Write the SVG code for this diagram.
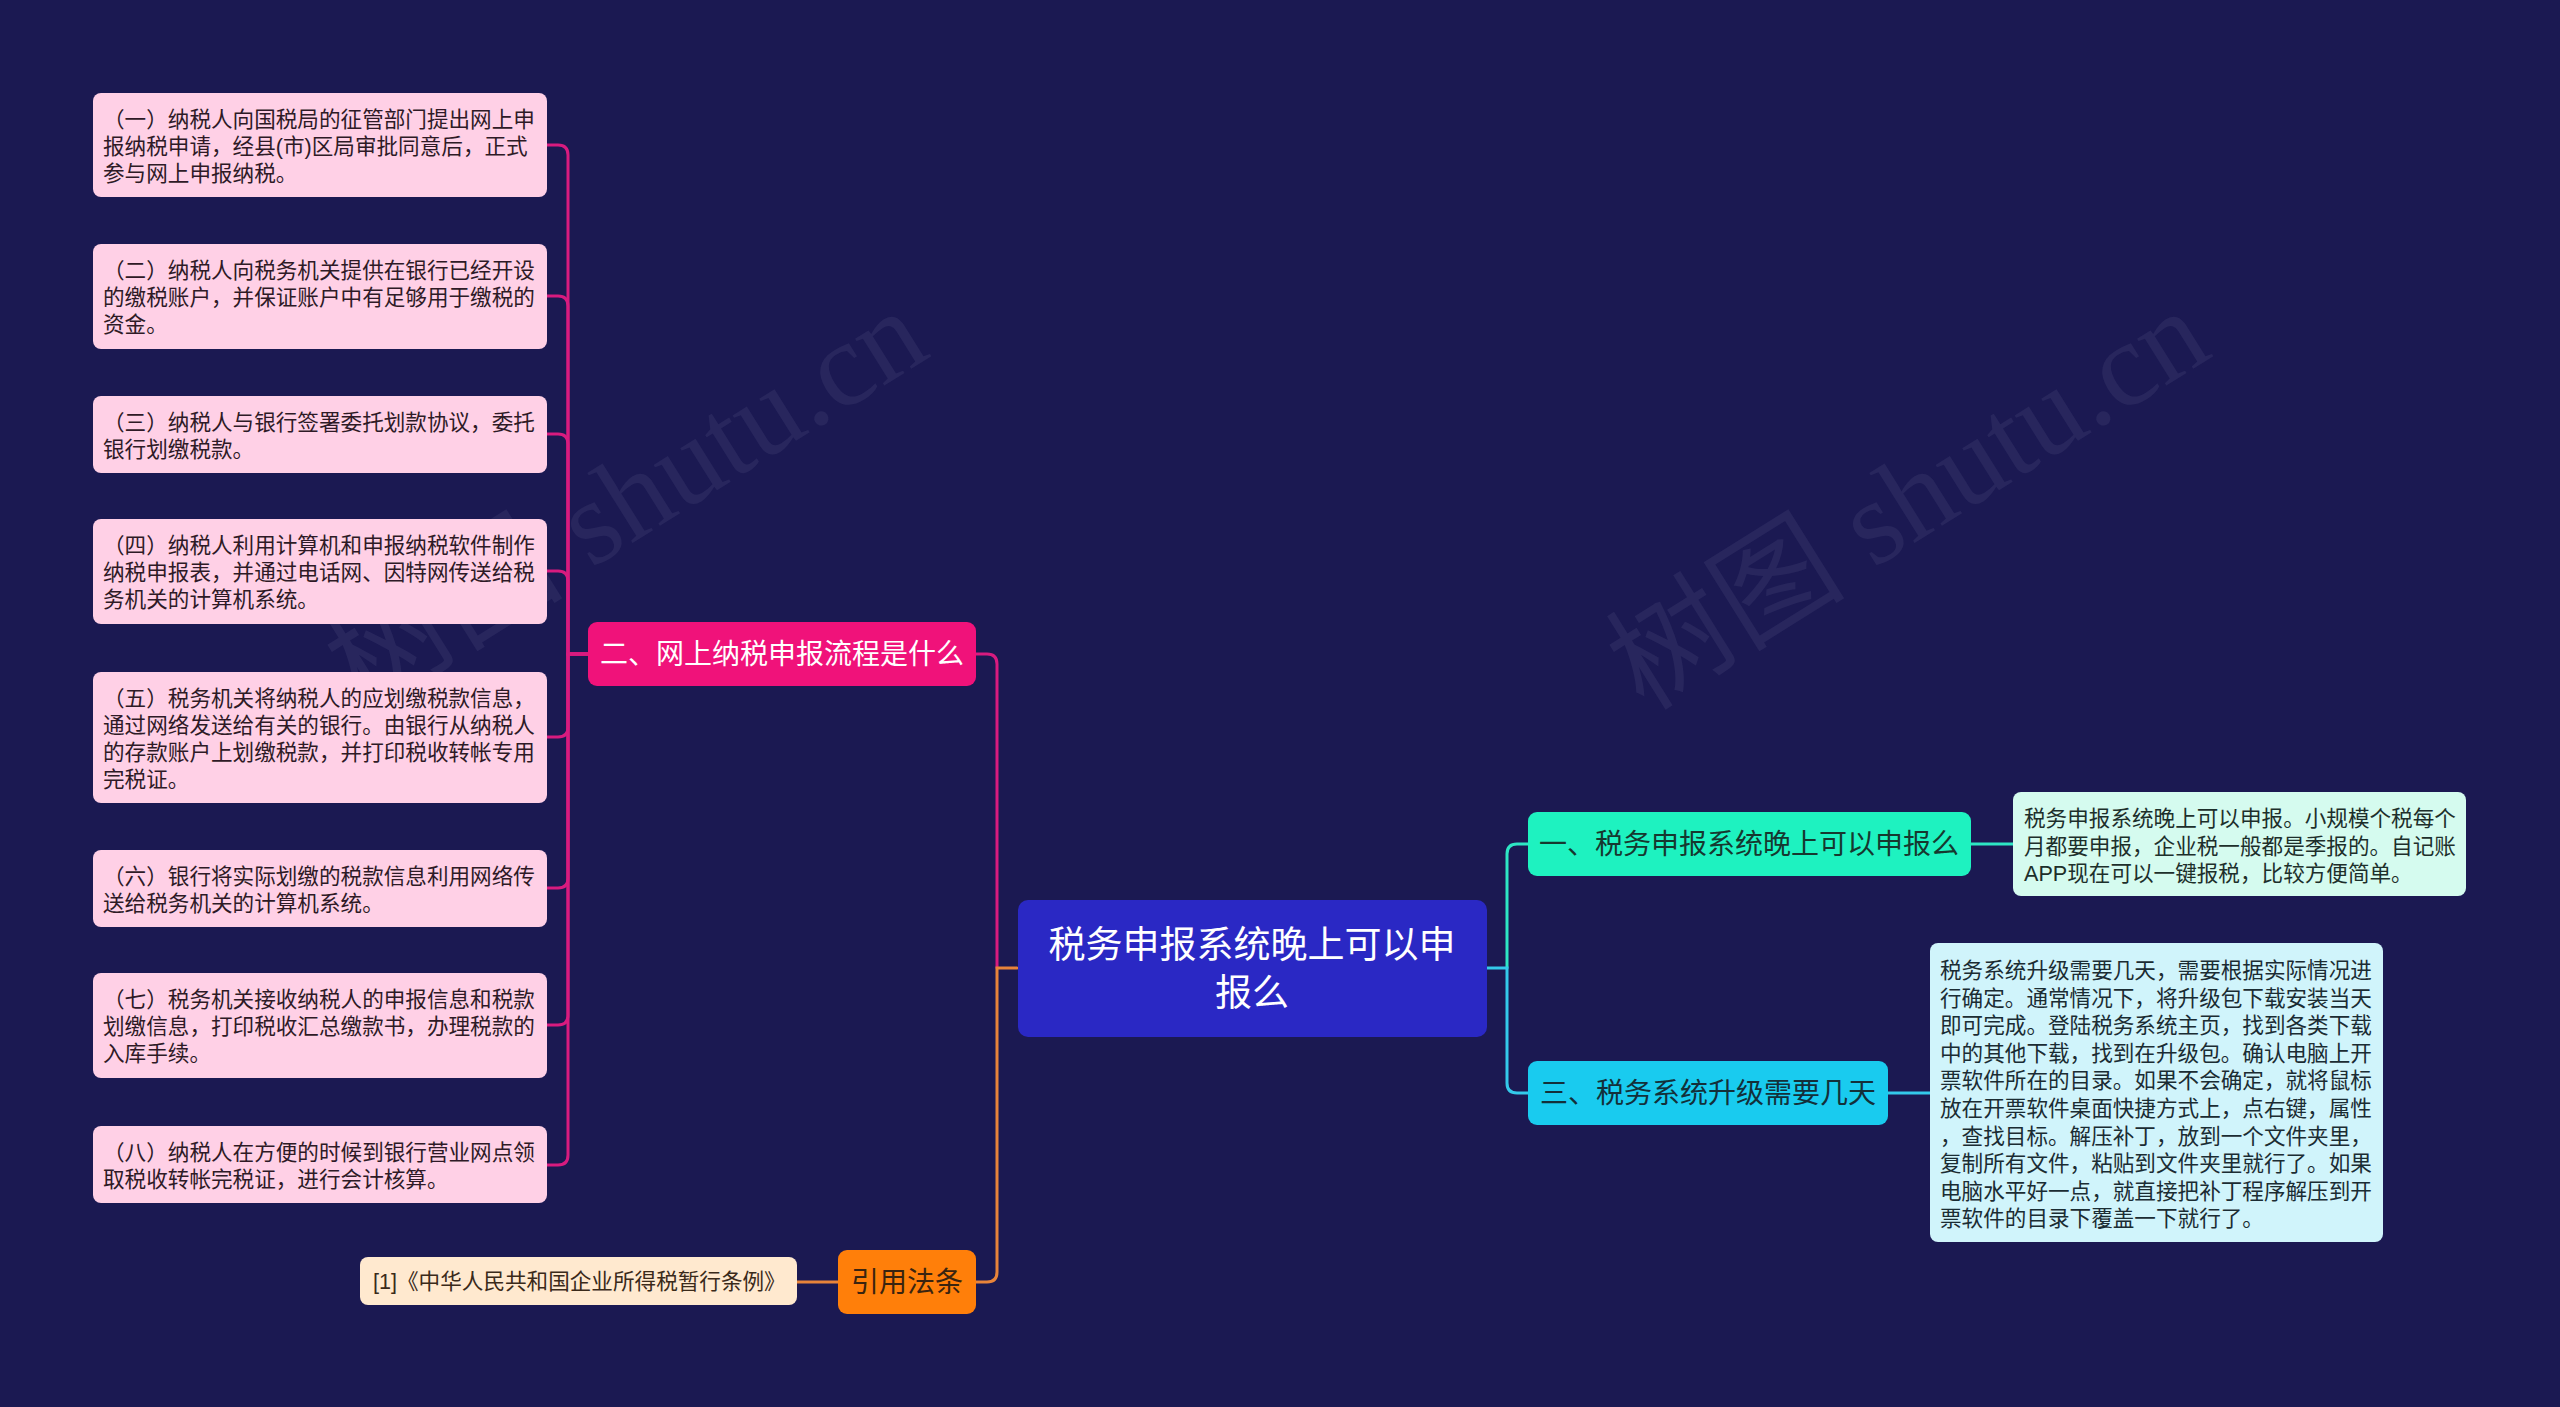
<svg xmlns="http://www.w3.org/2000/svg" width="2560" height="1407" viewBox="0 0 2560 1407">
<style>
text{font-family:"Liberation Sans","Noto Sans CJK SC",sans-serif;}
.sm{font-size:21.6px;}
.leaf{fill:#ffd0e6;}
.leaft{fill:#2e1a26;}
.lk{fill:none;stroke-width:3;stroke-linecap:round;}
.pink{stroke:#d81b7f;}
.org{stroke:#e8843a;}
.grn{stroke:#2ee6c4;}
.cyn{stroke:#34c9ea;}
.wm{font-family:"Liberation Serif","Noto Sans CJK SC",serif;font-size:120px;fill:#a0a0c8;fill-opacity:0.1;}
</style>
<rect x="0" y="0" width="2560" height="1407" fill="#1b1952"/>
<g id="watermarks">
<text class="wm" transform="translate(362,712) rotate(-32)">树图 shutu.cn</text>
<text class="wm" transform="translate(1644,712) rotate(-32)">树图 shutu.cn</text>
</g>
<g id="connectors">
<path class="lk pink" d="M588,654 H568 V155 Q568,145 558,145 H547"/>
<path class="lk pink" d="M588,654 H568 V306 Q568,296 558,296 H547"/>
<path class="lk pink" d="M588,654 H568 V444 Q568,434 558,434 H547"/>
<path class="lk pink" d="M588,654 H568 V581 Q568,571 558,571 H547"/>
<path class="lk pink" d="M588,654 H568 V727 Q568,737 558,737 H547"/>
<path class="lk pink" d="M588,654 H568 V878 Q568,888 558,888 H547"/>
<path class="lk pink" d="M588,654 H568 V1015 Q568,1025 558,1025 H547"/>
<path class="lk pink" d="M588,654 H568 V1155 Q568,1165 558,1165 H547"/>
<path class="lk pink" d="M976,654 H987 Q997,654 997,664 V968"/>
<path class="lk org" d="M976,1282 H987 Q997,1282 997,1272 V968 H1017"/>
<path class="lk org" d="M797,1282 H838"/>
<path class="lk grn" d="M1507,968 V854 Q1507,844 1517,844 H1528"/>
<path class="lk cyn" d="M1487,968 H1507 V1083 Q1507,1093 1517,1093 H1528"/>
<path class="lk grn" d="M1971,844 H2013"/>
<path class="lk cyn" d="M1888,1093 H1930"/>
</g>
<g id="root">
<rect x="1018" y="900" width="469" height="137" rx="10" fill="#2a28c4"/>
<text x="1252" y="958" font-size="37" fill="#ffffff" text-anchor="middle">税务申报系统晚上可以申</text>
<text x="1252" y="1006" font-size="37" fill="#ffffff" text-anchor="middle">报么</text>
</g>
<g id="n2">
<rect x="588" y="622" width="388" height="64" rx="9" fill="#f0127a"/>
<text x="782" y="664" font-size="28" fill="#ffffff" text-anchor="middle">二、网上纳税申报流程是什么</text>
</g>
<g id="n1">
<rect x="1528" y="812" width="443" height="64" rx="9" fill="#1ef2c0"/>
<text x="1749" y="854" font-size="28" fill="#16382f" text-anchor="middle">一、税务申报系统晚上可以申报么</text>
</g>
<g id="n3">
<rect x="1528" y="1061" width="360" height="64" rx="9" fill="#19cbef"/>
<text x="1708" y="1103" font-size="28" fill="#13303a" text-anchor="middle">三、税务系统升级需要几天</text>
</g>
<g id="nref">
<rect x="838" y="1250" width="138" height="64" rx="9" fill="#ff7f0a"/>
<text x="907" y="1292" font-size="28" fill="#3a2410" text-anchor="middle">引用法条</text>
</g>
<g id="ref1">
<rect x="360" y="1257" width="437" height="48" rx="8" fill="#ffe9cf"/>
<text class="sm" x="373" y="1289" fill="#3a2a1a">[1]《中华人民共和国企业所得税暂行条例》</text>
</g>
<g id="desc1">
<rect x="2013" y="792" width="453" height="104" rx="8" fill="#d5fbef"/>
<text class="sm" fill="#1d2f2b"><tspan x="2024" y="826">税务申报系统晚上可以申报。小规模个税每个</tspan><tspan x="2024" y="853.5">月都要申报，企业税一般都是季报的。自记账</tspan><tspan x="2024" y="881">APP现在可以一键报税，比较方便简单。</tspan></text>
</g>
<g id="desc3">
<rect x="1930" y="943" width="453" height="299" rx="8" fill="#d0f4fb"/>
<text class="sm" fill="#1b2c33"><tspan x="1940" y="978">税务系统升级需要几天，需要根据实际情况进</tspan><tspan x="1940" y="1005.6">行确定。通常情况下，将升级包下载安装当天</tspan><tspan x="1940" y="1033.2">即可完成。登陆税务系统主页，找到各类下载</tspan><tspan x="1940" y="1060.8">中的其他下载，找到在升级包。确认电脑上开</tspan><tspan x="1940" y="1088.4">票软件所在的目录。如果不会确定，就将鼠标</tspan><tspan x="1940" y="1116">放在开票软件桌面快捷方式上，点右键，属性</tspan><tspan x="1940" y="1143.6">，查找目标。解压补丁，放到一个文件夹里，</tspan><tspan x="1940" y="1171.2">复制所有文件，粘贴到文件夹里就行了。如果</tspan><tspan x="1940" y="1198.8">电脑水平好一点，就直接把补丁程序解压到开</tspan><tspan x="1940" y="1226.4">票软件的目录下覆盖一下就行了。</tspan></text>
</g>
<g id="s1">
<rect class="leaf" x="93" y="93" width="454" height="104" rx="8"/>
<text class="sm leaft"><tspan x="103" y="126.5">（一）纳税人向国税局的征管部门提出网上申</tspan><tspan x="103" y="153.7">报纳税申请，经县(市)区局审批同意后，正式</tspan><tspan x="103" y="180.9">参与网上申报纳税。</tspan></text>
</g>
<g id="s2">
<rect class="leaf" x="93" y="244" width="454" height="105" rx="8"/>
<text class="sm leaft"><tspan x="103" y="277.5">（二）纳税人向税务机关提供在银行已经开设</tspan><tspan x="103" y="304.7">的缴税账户，并保证账户中有足够用于缴税的</tspan><tspan x="103" y="331.9">资金。</tspan></text>
</g>
<g id="s3">
<rect class="leaf" x="93" y="396" width="454" height="77" rx="8"/>
<text class="sm leaft"><tspan x="103" y="429.5">（三）纳税人与银行签署委托划款协议，委托</tspan><tspan x="103" y="456.7">银行划缴税款。</tspan></text>
</g>
<g id="s4">
<rect class="leaf" x="93" y="519" width="454" height="105" rx="8"/>
<text class="sm leaft"><tspan x="103" y="552.5">（四）纳税人利用计算机和申报纳税软件制作</tspan><tspan x="103" y="579.7">纳税申报表，并通过电话网、因特网传送给税</tspan><tspan x="103" y="606.9">务机关的计算机系统。</tspan></text>
</g>
<g id="s5">
<rect class="leaf" x="93" y="672" width="454" height="131" rx="8"/>
<text class="sm leaft"><tspan x="103" y="705.5">（五）税务机关将纳税人的应划缴税款信息，</tspan><tspan x="103" y="732.7">通过网络发送给有关的银行。由银行从纳税人</tspan><tspan x="103" y="759.9">的存款账户上划缴税款，并打印税收转帐专用</tspan><tspan x="103" y="787.1">完税证。</tspan></text>
</g>
<g id="s6">
<rect class="leaf" x="93" y="850" width="454" height="77" rx="8"/>
<text class="sm leaft"><tspan x="103" y="883.5">（六）银行将实际划缴的税款信息利用网络传</tspan><tspan x="103" y="910.7">送给税务机关的计算机系统。</tspan></text>
</g>
<g id="s7">
<rect class="leaf" x="93" y="973" width="454" height="105" rx="8"/>
<text class="sm leaft"><tspan x="103" y="1006.5">（七）税务机关接收纳税人的申报信息和税款</tspan><tspan x="103" y="1033.7">划缴信息，打印税收汇总缴款书，办理税款的</tspan><tspan x="103" y="1060.9">入库手续。</tspan></text>
</g>
<g id="s8">
<rect class="leaf" x="93" y="1126" width="454" height="77" rx="8"/>
<text class="sm leaft"><tspan x="103" y="1159.5">（八）纳税人在方便的时候到银行营业网点领</tspan><tspan x="103" y="1186.7">取税收转帐完税证，进行会计核算。</tspan></text>
</g>
</svg>
